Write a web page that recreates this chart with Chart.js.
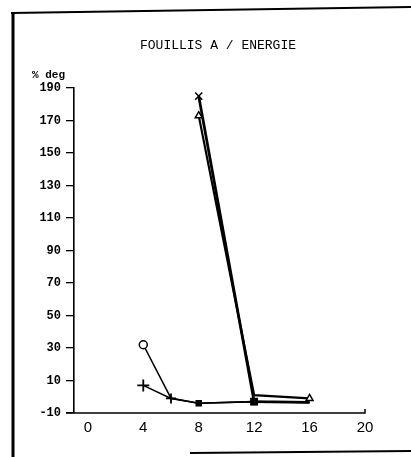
<!DOCTYPE html>
<html>
<head>
<meta charset="utf-8">
<script src="https://cdn.jsdelivr.net/npm/chart.js@4"></script>
<style>
  html, body { margin: 0; padding: 0; background: #fff; }
  #wrap { width: 411px; height: 457px; position: relative; }
</style>
</head>
<body>
<div id="wrap"><canvas id="c" width="411" height="457"></canvas></div>
<script>
// ---- data ----
const chartTitle = "FOUILLIS A / ENERGIE";
const yAxisLabel = "% deg";
const xTickValues = [0, 4, 8, 12, 16, 20];
const yTickValues = [-10, 10, 30, 50, 70, 90, 110, 130, 150, 170, 190];

const circleX = [4, 6, 8, 12, 16];
const circleY = [32, -1, -4, -3, -3.5];

const plusX = [4, 6, 8, 12, 16];
const plusY = [7, -1, -4, -3, -3.5];

const crossX = [8, 12, 16];
const crossY = [185, -3, -3.5];

const triangleX = [8, 12, 16];
const triangleY = [173, 1, -1];

function pts(xs, ys) { return xs.map((x, i) => ({ x: x, y: ys[i] })); }

const framePlugin = {
  id: 'frame',
  afterDraw(chart) {
    const ctx = chart.ctx;
    ctx.save();
    ctx.strokeStyle = '#000';
    ctx.lineCap = 'butt';
    // scanned page frame
    ctx.lineWidth = 3;
    ctx.beginPath(); ctx.moveTo(13, 12); ctx.lineTo(13, 457); ctx.stroke();
    ctx.lineWidth = 2;
    ctx.beginPath(); ctx.moveTo(11, 13); ctx.lineTo(411, 7); ctx.stroke();
    ctx.beginPath(); ctx.moveTo(190, 453); ctx.lineTo(411, 451); ctx.stroke();
    // x axis extends a little left of the y axis
    const xs = chart.scales.x, ys = chart.scales.y;
    ctx.lineWidth = 1.5;
    ctx.beginPath(); ctx.moveTo(66, ys.bottom); ctx.lineTo(xs.right, ys.bottom); ctx.lineTo(xs.right, ys.bottom - 4); ctx.stroke();
    // texts
    ctx.fillStyle = '#000';
    ctx.font = '13px "Liberation Mono", monospace';
    ctx.textAlign = 'center';
    ctx.textBaseline = 'middle';
    ctx.fillText(chartTitle, 218, 46);
    ctx.font = 'bold 11px "Liberation Mono", monospace';
    ctx.textAlign = 'left';
    ctx.fillText(yAxisLabel, 32, 75);
    ctx.restore();
  }
};

new Chart(document.getElementById('c'), {
  type: 'scatter',
  data: {
    datasets: [
      {
        label: 'o', data: pts(circleX, circleY), showLine: true,
        borderColor: '#000', borderWidth: 1.6,
        pointStyle: ['circle', 'circle', 'rect', 'rect', 'circle'],
        pointRadius: [4, 0, 3.5, 4, 0],
        pointBackgroundColor: ['#fff', '#000', '#000', '#000', '#000'],
        pointBorderColor: '#000', pointBorderWidth: 1.5
      },
      {
        label: '+', data: pts(plusX, plusY), showLine: true,
        borderColor: '#000', borderWidth: 1.6,
        pointStyle: 'cross', pointRadius: [6, 5, 0, 0, 0],
        pointBorderColor: '#000', pointBorderWidth: 1.8
      },
      {
        label: 'x', data: pts(crossX, crossY), showLine: true,
        borderColor: '#000', borderWidth: 2.8,
        pointStyle: ['crossRot', 'rect', 'rect'],
        pointRadius: [5, 4.5, 0],
        pointBackgroundColor: '#000',
        pointBorderColor: '#000', pointBorderWidth: 1.5
      },
      {
        label: 'tri', data: pts(triangleX, triangleY), showLine: true,
        borderColor: '#000', borderWidth: 2.2,
        pointStyle: 'triangle', pointRadius: [4, 0, 4],
        pointBackgroundColor: '#fff',
        pointBorderColor: '#000', pointBorderWidth: 1.5
      }
    ]
  },
  options: {
    responsive: false,
    animation: false,
    layout: { padding: { top: 88, right: 46, bottom: 0, left: 0 } },
    plugins: { legend: { display: false }, title: { display: false }, tooltip: { enabled: false } },
    elements: { line: { tension: 0 } },
    scales: {
      x: {
        type: 'linear', min: -1, max: 20,
        afterBuildTicks(s) { s.ticks = xTickValues.map(v => ({ value: v })); },
        afterFit(s) { s.height = 44; },
        grid: { display: false, drawTicks: false },
        border: { display: false },
        ticks: { color: '#000', padding: 6, font: { family: '"Liberation Sans", Arial, sans-serif', size: 15 } }
      },
      y: {
        type: 'linear', min: -10, max: 190,
        afterBuildTicks(s) { s.ticks = yTickValues.map(v => ({ value: v })); },
        afterFit(s) { s.width = 74; },
        grid: { drawOnChartArea: false, drawTicks: true, tickLength: 8, color: '#000', lineWidth: 1.3 },
        border: { display: true, color: '#000', width: 1.6 },
        ticks: { color: '#000', padding: 5, font: { family: '"Liberation Mono", monospace', size: 12, weight: 'bold' } }
      }
    }
  },
  plugins: [framePlugin]
});
</script>
</body>
</html>
